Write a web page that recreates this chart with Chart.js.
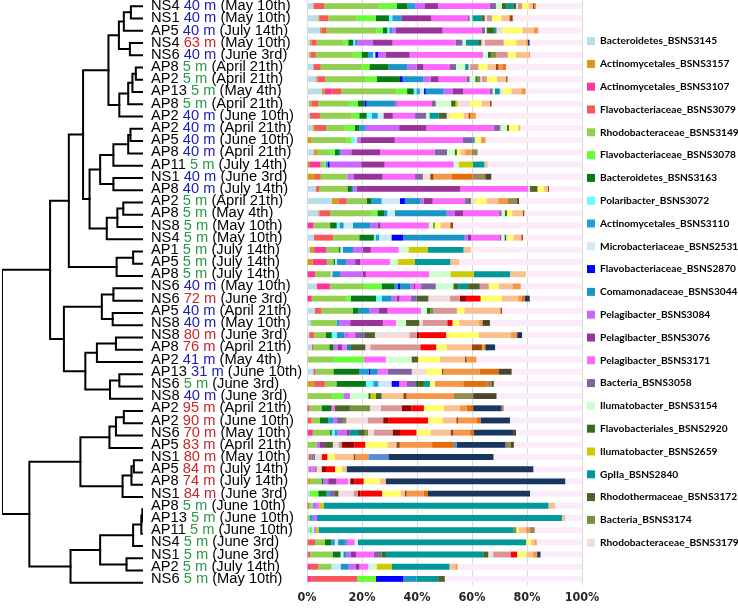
<!DOCTYPE html>
<html>
<head>
<meta charset="utf-8">
<script src="https://cdn.jsdelivr.net/npm/chart.js@4"></script>
<style>
  body { margin: 0; background: #fff; }
  #wrap { position: relative; width: 738px; height: 610px; }
  #wrap canvas { position: absolute; left: 0; top: 0; }
</style>
</head>
<body>
<div id="wrap">
  <canvas id="bars" width="738" height="610"></canvas>
  <canvas id="tree" width="150" height="610"></canvas>
</div>
<script>
// samples, top to bottom (dendrogram leaf order)
const sites = ['NS4','NS1','AP5','NS4','NS6','AP8','AP2','AP13','AP8','AP2','AP2','AP5','AP8','AP11','NS1','AP8','AP2','AP8','NS8','NS4','AP1','AP5','AP8','NS6','NS6','AP5','NS8','NS8','AP8','AP2','AP13','NS6','NS8','AP2','AP2','NS6','AP5','NS1','AP5','AP8','NS1','AP8','AP13','AP11','NS4','NS1','AP2','NS6'];
const depths = [40,40,40,63,40,5,5,5,5,40,40,40,40,5,40,40,5,5,5,5,5,5,5,40,72,40,40,80,76,41,31,5,40,95,90,70,83,80,84,74,84,5,5,5,5,5,5,5];
const dates = ['May 10th','May 10th','July 14th','May 10th','June 3rd','April 21th','April 21th','May 4th','April 21th','June 10th','April 21th','June 10th','April 21th','July 14th','June 3rd','July 14th','April 21th','May 4th','May 10th','May 10th','July 14th','July 14th','July 14th','May 10th','June 3rd','April 21th','May 10th','June 3rd','April 21th','May 4th','June 10th','June 3rd','June 3rd','April 21th','June 10th','May 10th','April 21th','May 10th','July 14th','July 14th','June 3rd','June 10th','June 10th','June 10th','June 3rd','June 3rd','July 14th','May 10th'];

// relative abundance (%) per OTU, one value per sample
const bact3145 = [2.3,4.1,4.7,1.1,0.8,2.3,3.3,5.3,0.8,1.1, 2.1,0,2.5,0,0,3.3,9.0,4.1,0,2.5, 1.1,0,0,3.5,0,2.9,1.3,0.8,1.7,0, 2.3,0,0,0,0,0,0,0.5,0.5,0, 1.1,0,0,1.1,0,0,0,0];
const acti3157 = [0,0.6,0.6,0.6,0.6,0,0.5,1.2,0.8,0, 0.8,1.7,1.2,0.8,2.9,0,2.4,0.4,0,0, 1.5,2.1,0,0,0,0,0,0,0,0, 0,2.5,0,0,0,0,0,0,0,1.1, 0,0,0,0,0,0,0,0];
const acti3107 = [0,0,0,0,0,0,0,2.4,0,0, 0,0,0,4.1,0,0,0,0,2.3,0, 4.4,5.1,2.9,4.8,1.7,0,0,0,0,0, 0.6,0,0,0.8,0,2.1,0,0,0,0, 0,0,0,0,0,0,1.1,1.7];
const flav3079 = [3.9,3.0,1.8,1.8,1.8,2.7,2.8,3.6,2.4,3.6, 4.0,0,0,0,2.1,1.2,3.0,3.9,0,7.0, 0,0,0,0,0,2.4,0,1.7,0.6,0, 0,4.0,0,0,1.7,0,0,1.2,0,0, 0,0.8,0,0,2.9,1.1,3.0,16.6];
const rhod3149 = [20.1,10.3,18.2,9.7,13.6,14.9,14.5,20.0,11.5,11.5, 6.9,12.7,4.6,1.2,9.7,10.2,7.3,14.8,6.1,9.5, 4.5,2.4,5.7,12.7,12.7,11.3,9.5,4.4,5.8,9.8, 6.7,4.2,9.3,4.5,3.0,6.3,3.5,0,0,4.2, 0,0,1.1,0,3.6,8.2,4.8,0];
const flav3078 = [6.3,7.0,2.2,1.8,3.0,2.8,4.2,3.9,3.0,2.8, 3.6,1.8,1.8,0.7,0,0,0,2.4,0,0, 0,0,0,6.1,1.5,0,0,0,0,10.9, 0,0,3.9,0,0,0,0,0,0,0, 3.0,1.2,0,0.8,0,0,0,6.8];
const bact3163 = [3.9,4.8,1.7,1.8,2.4,6.9,8.5,2.4,2.4,2.7, 1.6,0,1.6,0,0,1.6,1.8,2.4,2.4,5.3, 0.6,0.6,0,4.8,9.2,2.1,0,2.1,1.5,0, 9.5,10.7,0,3.6,3.0,0.6,0,0,0,0.6, 3.0,0,0,0,2.4,2.9,0,0];
const pola3072 = [0,1.2,0.7,0.6,0,0,0,1.0,0,1.8, 0,1.2,0,0,0,0,0,0,1.0,0.7, 0,0,0,0,2.1,0,0,1.8,0,0, 0,2.7,0,0,0,1.0,0,0,0,0, 0,0,0,0,0,0,0,0];
const acti3110 = [2.8,3.3,1.2,0.8,1.8,0,0,1.2,0,2.2, 2.4,0,0.8,0.8,0,0.6,3.6,1.2,1.5,1.2, 0,0,0,1.2,0,0,1.0,0,0,0, 3.3,1.8,0,0,1.8,1.1,0,0.6,0,0, 1.0,0,1.0,0,1.2,0,0,0];
const micr2531 = [0,0,0,0,0.8,0,0,1.5,0,2.1, 0,0.8,0,0,0,0,6.7,2.8,3.4,4.5, 1.0,0.6,0.6,0,0,0,0,0,0,0, 0,4.8,0,0,0,0,0,0,0,0, 0,0,0,0.7,1.2,1.0,3.3,0];
const flav2870 = [0,0,0,0,1.0,0,1.0,0.7,0.8,0, 0,0,0,0.6,0,0,1.8,0,0,4.2, 0,0,0,0.8,0,0,0,0,0,0, 0.6,2.8,0,0,0,0,0,0,0,0, 0,0,0,0,0,0,0,9.9];
const coma3044 = [0,0,0,0,0,6.9,7.5,6.5,10.3,0, 0,0,0,0,0,0,5.7,18.8,6.3,22.4, 3.6,3.4,2.8,3.6,3.6,4.0,0,2.7,0,0, 2.7,0,0,0,0,0,0,0,0,0, 0,0,0,0,2.8,1.2,2.8,4.8];
const pela3084 = [3.6,0,1.2,5.6,2.8,3.4,2.7,3.2,1.2,0, 12.1,1.2,3.6,11.5,2.4,1.2,1.2,3.0,2.7,1.2, 3.6,3.3,8.2,1.2,1.8,3.3,3.9,1.9,1.5,0, 0,0,2.4,0,1.2,3.4,1.0,0,1.2,1.8, 0,1.5,1.5,0.8,0.8,1.5,2.8,0];
const pela3076 = [4.8,10.9,17.0,7.3,8.7,2.4,2.8,3.9,0,3.4, 9.9,12.5,10.5,8.5,10.4,37.6,3.2,3.0,1.0,1.2, 2.9,1.8,1.2,0.6,1.0,3.3,11.9,0,1.6,0, 0,0,0,0,0,1.0,1.7,0,0,3.0, 0,0,0,0,0,1.9,1.2,0];
const pela3171 = [18.8,13.3,14.2,23.0,26.7,9.7,10.3,9.7,12.1,8.1, 24.5,24.8,19.8,25.1,11.8,24.8,11.8,13.1,17.6,10.3, 10.1,10.9,23.0,2.2,4.1,12.1,4.8,2.1,1.8,8.0, 3.6,2.7,0,1.2,0,0,0,0,1.2,4.2, 0,1.0,0,0,2.4,6.5,3.3,0];
const bact3058 = [2.2,0.6,1.2,2.4,0,2.2,1.0,1.0,1.5,4.0, 2.4,3.4,4.5,0,2.8,0,1.2,0.8,0,0.6, 0,0,0,5.3,2.2,0,0,3.6,0,0, 8.8,3.4,0,0,2.4,0,0,0.6,0,0, 2.1,0,0,0,0,2.8,0,0];
const ilum3154 = [2.1,1.0,0.6,1.2,1.8,3.3,2.1,0.8,5.6,1.2, 2.4,0,2.8,1.9,0,0.5,0,1.2,1.6,1.2, 3.6,2.8,7.8,6.4,0,2.2,3.6,0,0,9.3, 0,0,6.7,0,0,0,0,0,0,0, 0,0,0,0,1.2,0,3.0,0];
const flav2920 = [1.8,0,2.8,0,1.2,0,0.8,0,1.6,0, 0,0,0.8,0,0,0,0.8,0.8,0.5,0.6, 0,0,0,1.8,0,1.2,0,0,0,0, 0,2.9,0.8,0,0,0,0,0,0,0, 0,0,0,0,0,1.6,0,0];
const ilum2659 = [0,0,0,0,0,0,0,0,0.8,0, 0,0,0,5.1,0,0,0,0,0,0, 7.0,6.1,8.5,0,0,0,0,0,0,0, 0,0,1.9,0,0,0,0,0,0,0, 0,1.5,0,0.8,0,0,5.5,0];
const gpII2840 = [2.4,3.3,0.8,4.5,0,1.2,0,1.8,0,3.4, 0,0.8,0,4.2,0,0,0,0,0,0, 13.0,13.0,13.1,3.6,0,0,0,0,1.5,0, 0,2.2,0,0,0,3.4,0,0,0,0, 0,81.8,89.1,70.9,61.2,35.4,21.0,7.9];
const rhot3172 = [1.0,1.2,0,1.2,0,0,0,0,0,2.9, 0.7,0,0,0,0,2.8,0,0,0,0, 0,0,0,4.2,4.2,0,4.8,3.6,5.2,2.4, 0,0,2.1,5.5,0,2.1,3.2,0,0,0, 1.2,0,0,0,0,1.8,0,2.4];
const bact3174 = [0,0,0,0,1.8,0,1.0,0,0,0, 0,0,0,0,0,0,0,0,0,0, 0,0,0,0,0,1.2,0,0,0,0, 0,0,0,7.3,1.2,1.2,0,0,0.6,0, 0,0,0,1.0,0,0,0,0];
const rhod3179 = [0.7,0.8,2.4,1.2,0,0.6,0.6,1.2,4.5,1.0, 0,0.6,0,0,2.7,0,1.9,0,0,0.6, 0,0,0,0,7.9,0,1.2,12.5,1.8,0, 5.2,0,0,3.9,7.9,2.1,2.1,2.4,1.8,0.8, 5.5,0,0,0,0,1.8,0,0];
// OTUs drawn in the bars but not listed in the legend
const otherA = [1.5,1.9,0,6.9,4.2,3.0,1.8,0,0,0, 0,0,0,0,0,0,0,0,0,0, 0,0,0,3.3,3.6,8.5,9.0,2.7,18.2,0, 0,0,0,7.6,5.5,6.8,1.2,0,0,0, 1.5,0,0,0,0,6.3,0,0];
const otherB = [0,0,0,0,0,0,0,0,0,0, 0,0,0,0,0,0,0,0,0,0, 0,0,0,0,2.2,0,0,1.0,0,0, 0,0,0,3.6,1.8,3.0,4.5,0,1.6,1.6, 1.0,0,0,0,0,0,0,0];
const otherC = [0,0,0,0,0,0,0,0,0,0, 0,0,0,0,0,0,0,0,0,0, 0,0,0,0,5.3,0,1.9,9.7,5.8,0, 0,0,0,4.5,14.5,5.7,4.0,2.1,3.3,3.3, 7.9,0,0,0,0,2.4,0,0];
const otherD = [2.4,3.3,7.0,4.6,3.0,3.3,3.6,3.0,4.2,5.1, 3.3,1.8,1.2,0,0,2.2,3.9,1.9,2.1,2.1, 0,0,0,3.6,7.6,2.7,2.4,11.8,3.9,7.9, 5.7,1.8,0,7.3,5.2,5.1,8.1,2.8,2.4,5.8, 6.7,0,0,1.0,1.8,3.4,0,0];
const otherE = [1.5,3.0,4.1,3.4,4.6,3.0,3.4,3.6,3.0,1.8, 0.8,0,1.8,1.2,0,1.5,4.2,3.9,3.6,2.8, 2.7,3.3,5.8,5.2,6.1,13.1,7.3,11.8,9.1,9.1, 0,0,7.9,5.8,5.1,7.3,3.2,6.7,1.8,2.2, 1.5,2.4,1.2,2.4,1.2,2.4,2.1,0];
const otherF = [0.6,1.2,0,0,0,1.0,0.5,0,0.6,0.6, 0,0,0,0,1.2,0.5,0,0.5,1.0,0.6, 0,0,0,0,0,0.6,0,0,3.6,0.6, 0.6,0,1.2,0,0.6,1.0,1.2,0.6,0,0, 0.7,0,0,0,0,0,0,0];
const otherG = [0.6,0,1.7,0.8,0.5,1.7,0,1.6,0,2.1, 0,1.6,2.4,0,6.7,0,3.6,0,0,0, 0,0,0,2.8,1.2,0,1.2,2.2,1.2,3.6, 13.3,10.3,17.2,2.4,6.7,6.1,11.8,4.8,0,0, 6.3,0,0,1.5,0.8,1.5,0.8,0];
const otherH = [0,0,0,0,0,1.0,0,0,0,0, 0,0,0,0,7.5,0,0,0,0,0, 0,0,0,0,1.2,0,0,0,0,0, 6.7,8.5,0,2.4,1.5,1.2,7.9,0,0,0, 1.5,0,0,0,0,0,0,0];
const otherI = [0,0,0,0,0,0,0,0,0,0, 0,0,0,0,0,0,0,0,0,0, 0,0,0,0,0,0,0,0,0,0, 0,0,0,0,0,0,1.0,7.3,0,0, 0,0,0,0,0,0,0,0];
const otherJ = [0,0,0,0.6,0,0,0,0,0,0, 0,0,0,0,0,0,0,0,0,0, 0,0,0,0,1.8,0,0,1.8,3.6,0, 0,0,0,10.3,10.7,14.5,17.8,38.2,67.9,65.3, 37.1,0,0,0,0,1.2,0,0];
const otherK = [0,0,0,0,0,0,0,0,0,0, 0,0,2.1,0,4.6,0,3.3,0,0,0, 0,0,0,0,0,0,0,0,0,0, 0,1.8,7.0,0.8,0,0,1.8,0,0,0, 0,0,0,1.8,0,0,0,0];
const otherL = [0,0,0,0,0,0,0,0,0,0, 0,0,0,0,2.2,0,0.7,0,0,0, 0,0,0,0,0,0,2.7,0,0,0, 4.8,0.8,8.5,0,0,1.0,1.2,0,0,0, 0,0,0,0,0,0,0,0];

// x axis ticks
const xTicks = [0, 20, 40, 60, 80, 100];

// hierarchical clustering: [child a, child b, distance]; leaves are 0..47, merge k gets id 48 + k
const merges = [
  [0,1,0.086],[48,2,0.136],[3,4,0.093],[49,50,0.171],[5,6,0.051],[52,7,0.075],[53,8,0.105],[54,9,0.168],
  [51,55,0.245],[10,11,0.089],[57,12,0.105],[58,13,0.210],[14,15,0.210],[59,60,0.304],[16,17,0.140],
  [62,18,0.182],[63,19,0.257],[61,64,0.379],[56,65,0.425],[20,21,0.070],[67,22,0.187],[66,68,0.526],
  [23,24,0.210],[25,26,0.215],[70,71,0.292],[27,28,0.192],[73,29,0.327],[30,31,0.168],[75,32,0.234],
  [74,76,0.409],[72,77,0.561],[69,78,0.659],[33,34,0.136],[80,35,0.192],[81,36,0.238],[37,38,0.065],
  [83,39,0.082],[84,40,0.145],[82,85,0.444],[41,42,0.005],[87,43,0.012],[88,44,0.070],[45,46,0.117],
  [89,90,0.304],[91,47,0.514],[86,92,0.806],[79,93,1.0]
];

const series = [
  ['Bacteroidetes_BSNS3145', '#b7dee8', bact3145],
  ['Actinomycetales_BSNS3157', '#d39b1c', acti3157],
  ['Actinomycetales_BSNS3107', '#ff3399', acti3107],
  ['Flavobacteriaceae_BSNS3079', '#f85858', flav3079],
  ['Rhodobacteraceae_BSNS3149', '#92d050', rhod3149],
  ['Flavobacteriaceae_BSNS3078', '#66ff33', flav3078],
  ['Bacteroidetes_BSNS3163', '#077a17', bact3163],
  ['Polaribacter_BSNS3072', '#66ffff', pola3072],
  ['Actinomycetales_BSNS3110', '#1f9fd6', acti3110],
  ['Microbacteriaceae_BSNS2531', '#cfe9f9', micr2531],
  ['Flavobacteriaceae_BSNS2870', '#0000ff', flav2870],
  ['Comamonadaceae_BSNS3044', '#1a95c8', coma3044],
  ['Pelagibacter_BSNS3084', '#cc66ff', pela3084],
  ['Pelagibacter_BSNS3076', '#993399', pela3076],
  ['Pelagibacter_BSNS3171', '#ff66ff', pela3171],
  ['Bacteria_BSNS3058', '#8064a2', bact3058],
  ['Ilumatobacter_BSNS3154', '#ccffcc', ilum3154],
  ['Flavobacteriales_BSNS2920', '#3b6a1e', flav2920],
  ['Ilumatobacter_BSNS2659', '#cccc00', ilum2659],
  ['GpIIa_BSNS2840', '#009999', gpII2840],
  ['Rhodothermaceae_BSNS3172', '#4f6228', rhot3172],
  ['Bacteria_BSNS3174', '#77933c', bact3174],
  ['Rhodobacteraceae_BSNS3179', '#f2dcdb', rhod3179],
  ['Other A', '#d99694', otherA],
  ['Other B', '#990000', otherB],
  ['Other C', '#ff0000', otherC],
  ['Other D', '#ffff66', otherD],
  ['Other E', '#fac090', otherE],
  ['Other F', '#984807', otherF],
  ['Other G', '#f79646', otherG],
  ['Other H', '#e46c0a', otherH],
  ['Other I', '#558ed5', otherI],
  ['Other J', '#17375e', otherJ],
  ['Other K', '#948a54', otherK],
  ['Other L', '#4a452a', otherL]
];
const legendCount = 23;

const depthColour = d => d <= 5 ? '#2a9a48' : (d < 50 ? '#1c1cb4' : '#c82828');

// sample names with the depth in its own colour, drawn next to the tree
const rowLabels = {
    id: 'rowLabels',
    afterDraw(chart) {
        const ctx = chart.ctx;
        const yScale = chart.scales.y;
        ctx.save();
        ctx.font = '14.7px "Liberation Sans", Arial, sans-serif';
        ctx.textBaseline = 'middle';
        sites.forEach((site, i) => {
            const py = yScale.getPixelForValue(i);
            let px = 151;
            const parts = [[site + ' ', '#000'], [depths[i] + ' m', depthColour(depths[i])], [' (' + dates[i] + ')', '#000']];
            parts.forEach(([t, c]) => {
                ctx.fillStyle = c;
                ctx.fillText(t, px, py);
                px += ctx.measureText(t).width;
            });
        });
        ctx.restore();
    }
};

const labels = sites.map((s, i) => s + ' ' + depths[i] + ' m (' + dates[i] + ')');

const datasets = series.map(([name, colour, data]) => ({
    label: name,
    data: data,
    backgroundColor: colour,
    borderWidth: 0,
    stack: 'main',
    barPercentage: 0.48,
    categoryPercentage: 1
}));
// pale track behind every bar up to 100 %
datasets.push({
    label: 'track',
    data: sites.map(() => 100),
    backgroundColor: '#fcecf9',
    borderWidth: 0,
    stack: 'bg',
    grouped: false,
    order: 1,
    barPercentage: 0.48,
    categoryPercentage: 1
});

new Chart(document.getElementById('bars').getContext('2d'), {
    type: 'bar',
    data: { labels: labels, datasets: datasets },
    options: {
        indexAxis: 'y',
        responsive: false,
        animation: false,
        devicePixelRatio: 1,
        layout: { padding: { left: 307, top: 0, right: 0, bottom: 0 } },
        scales: {
            x: {
                stacked: true,
                min: 0,
                max: 100,
                afterBuildTicks: axis => { axis.ticks = xTicks.map(v => ({ value: v })); },
                grid: { color: '#d9d9d9', drawTicks: false },
                border: { display: false },
                ticks: {
                    padding: 5,
                    color: '#262626',
                    font: { family: '"DejaVu Sans Condensed", sans-serif', size: 12.5, weight: 'bold' },
                    callback: v => v + '%'
                }
            },
            y: { stacked: true, display: false }
        },
        plugins: {
            tooltip: { enabled: false },
            legend: {
                display: true,
                position: 'right',
                align: 'start',
                maxWidth: 156,
                title: { display: true, text: '', font: { size: 10 }, padding: { top: 19, bottom: 0 } },
                labels: {
                    boxWidth: 8,
                    boxHeight: 8,
                    padding: 5,
                    color: '#000',
                    font: { family: 'Lato, sans-serif', size: 10.2, weight: 'bold', lineHeight: 1.745 },
                    generateLabels(chart) {
                        const items = Chart.defaults.plugins.legend.labels.generateLabels(chart);
                        return items.filter(it => it.datasetIndex < legendCount).map(it => Object.assign(it, { text: [it.text] }));
                    }
                }
            }
        }
    },
    plugins: [rowLabels]
});

// dendrogram: one bracket per merge, leaves at the row positions
const nLeaves = sites.length;
const nodeY = [];
const nodeH = [];
for (let i = 0; i < nLeaves; i++) { nodeY.push(i); nodeH.push(0); }
const treeSets = merges.map(([a, b, h]) => {
    nodeY.push((nodeY[a] + nodeY[b]) / 2);
    nodeH.push(h);
    return {
        data: [
            { x: nodeH[a], y: nodeY[a] },
            { x: h, y: nodeY[a] },
            { x: h, y: nodeY[b] },
            { x: nodeH[b], y: nodeY[b] }
        ],
        showLine: true,
        borderColor: '#000',
        borderWidth: 2,
        borderCapStyle: 'square',
        borderJoinStyle: 'miter',
        pointRadius: 0,
        tension: 0
    };
});

new Chart(document.getElementById('tree').getContext('2d'), {
    type: 'scatter',
    data: { datasets: treeSets },
    options: {
        responsive: false,
        animation: false,
        devicePixelRatio: 1,
        layout: { padding: { left: 2, right: 7, top: 0, bottom: 21 } },
        scales: {
            x: { type: 'linear', min: 0, max: 1, reverse: true, display: false },
            y: { type: 'linear', min: -0.5, max: nLeaves - 0.5, reverse: true, display: false }
        },
        plugins: { legend: { display: false }, tooltip: { enabled: false } }
    }
});
</script>
</body>
</html>
